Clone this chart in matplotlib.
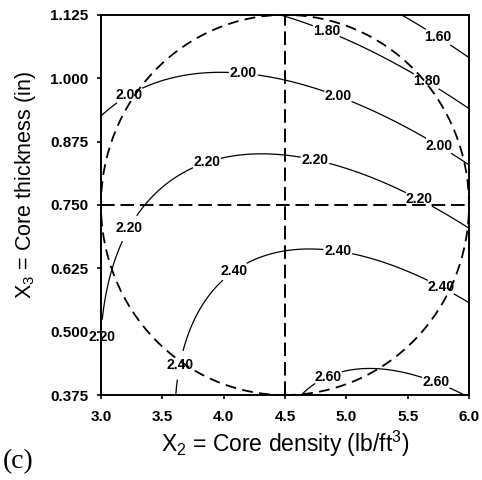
import numpy as np
import matplotlib
matplotlib.use("Agg")
import matplotlib.pyplot as plt
from matplotlib.patches import Ellipse

plt.rcParams['font.family'] = ['Liberation Sans', 'DejaVu Sans']
plt.rcParams['mathtext.fontset'] = 'custom'
plt.rcParams['mathtext.rm'] = 'Liberation Sans'
plt.rcParams['mathtext.it'] = 'Liberation Sans:italic'

# ---- data: points on each contour line ----
levels = [1.60, 1.80, 2.00, 2.20, 2.40, 2.60]
c160_x = [5.47, 5.75, 6.00]
c160_y = [1.125, 1.082, 1.040]
c180_x = [4.55, 4.83, 5.50, 5.65, 6.00]
c180_y = [1.125, 1.089, 1.016, 0.993, 0.941]
c200_x = [3.00, 3.24, 3.95, 4.16, 4.49, 4.93, 5.63, 5.75, 6.00]
c200_y = [0.926, 0.963, 1.007, 1.007, 0.997, 0.963, 0.884, 0.866, 0.829]
c220_x = [3.00, 3.02, 3.21, 3.375, 3.70, 3.86, 4.08, 4.49, 4.74, 5.50, 5.59, 5.99, 3.005, 3.005]
c220_y = [0.509, 0.549, 0.700, 0.754, 0.825, 0.838, 0.849, 0.849, 0.833, 0.774, 0.760, 0.707, 0.450, 0.400]
c240_x = [3.62, 3.64, 3.70, 3.86, 4.08, 4.28, 4.49, 4.93, 5.36, 5.77, 6.00]
c240_y = [0.375, 0.434, 0.500, 0.568, 0.632, 0.641, 0.661, 0.657, 0.628, 0.588, 0.559]
c260_x = [4.64, 4.86, 5.04, 5.17, 5.66, 6.00]
c260_y = [0.375, 0.406, 0.428, 0.431, 0.405, 0.372]

# label positions per level as seen on the reference
labels_160 = [(5.75, 1.082)]
labels_180 = [(4.83, 1.089), (5.65, 0.993)]
labels_200 = [(3.24, 0.963), (4.16, 1.007), (4.93, 0.963), (5.75, 0.866)]
labels_220 = [(3.008, 0.489), (3.26, 0.70), (3.86, 0.835), (4.74, 0.833), (5.59, 0.760)]
labels_240 = [(3.64, 0.434), (4.08, 0.622), (4.93, 0.657), (5.77, 0.588)]
labels_260 = [(4.86, 0.406), (5.73, 0.400)]

xticks = [3.0, 3.5, 4.0, 4.5, 5.0, 5.5, 6.0]
yticks = [0.375, 0.500, 0.625, 0.750, 0.875, 1.000, 1.125]

all_x = [c160_x, c180_x, c200_x, c220_x, c240_x, c260_x]
all_y = [c160_y, c180_y, c200_y, c220_y, c240_y, c260_y]
all_labels = [labels_160, labels_180, labels_200, labels_220, labels_240, labels_260]

# ---- response surface fitted to the read contour points ----
px, py, pz = [], [], []
for lev, xs, ys in zip(levels, all_x, all_y):
    px += xs; py += ys; pz += [lev] * len(xs)
px, py, pz = np.array(px), np.array(py), np.array(pz)

def feats(x, y):
    u = (x - 4.5) / 1.5
    v = (y - 0.75) / 0.375
    return np.stack([np.ones_like(u), u, v, u * u, v * v, u * v], axis=-1)

coef, *_ = np.linalg.lstsq(feats(px, py), pz, rcond=None)
gx = np.linspace(3.0, 6.0, 301)
gy = np.linspace(0.375, 1.125, 301)
GX, GY = np.meshgrid(gx, gy)
GZ = feats(GX, GY) @ coef

fig = plt.figure(figsize=(4.82, 4.80), dpi=100)
ax = fig.add_axes([0.2095, 0.177, 0.7635, 0.792])

for lev, lab in zip(levels, all_labels):
    cs = ax.contour(GX, GY, GZ, levels=[lev], colors='black', linewidths=0.9)
    if cs.allsegs[0]:
        texts = ax.clabel(cs, manual=lab, inline=True, fmt='%.2f',
                          fontsize=10, inline_spacing=1)
        for t, (lx, ly) in zip(texts, lab):
            t.set_fontweight('bold')
            t.set_rotation(0)
            if lx < 3.05:
                # label sitting on the left frame, as in the reference
                t.set_position((lx, ly))
                t.set_clip_on(False)

ax.add_patch(Ellipse((4.5, 0.75), 3.0, 0.75, fill=False, ec='black', lw=1.3,
                     ls=(0, (6, 3.5))))
ax.axvline(4.5, color='black', lw=1.4, ls=(0, (7, 3)))
ax.axhline(0.75, color='black', lw=1.4, ls=(0, (7, 3)))

ax.set_xlim(3.0, 6.0)
ax.set_ylim(0.375, 1.125)
ax.set_xticks(xticks)
ax.set_yticks(yticks)
ax.set_xticklabels([f'{v:.1f}' for v in xticks], fontweight='bold', fontsize=11)
ax.set_yticklabels([f'{v:.3f}' for v in yticks], fontweight='bold', fontsize=11)
ax.tick_params(direction='out', length=3, width=1.2)
ax.tick_params(axis='y', pad=6)
ax.tick_params(axis='x', pad=8)
for s in ax.spines.values():
    s.set_linewidth(1.4)

ax.set_xlabel('X$_2$ = Core density (lb/ft$^3$)', fontsize=16.5, labelpad=3)
ax.set_ylabel('X$_3$ = Core thickness (in)', fontsize=15.5)
ax.yaxis.set_label_coords(-0.17, 0.553)
fig.text(0.006, 0.025, '(c)', fontsize=20, family='Liberation Serif')

fig.savefig('out.png', dpi=100)
